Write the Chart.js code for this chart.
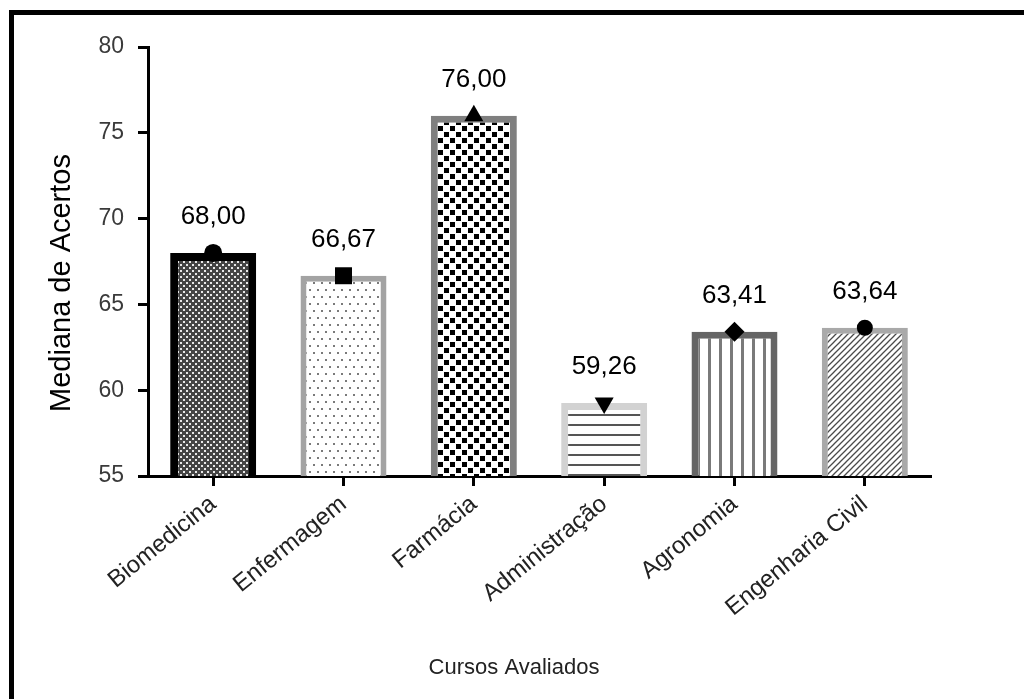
<!DOCTYPE html>
<html>
<head>
<meta charset="utf-8">
<script src="https://cdn.jsdelivr.net/npm/chart.js@4/dist/chart.umd.min.js"></script>
<style>
  html, body { margin: 0; padding: 0; background: #fff; overflow: hidden; width: 1024px; height: 699px; }
  #frame { position: absolute; left: 9px; top: 10px; width: 1100px; height: 800px;
           border-left: 5px solid #000; border-top: 5px solid #000; }
  #grafico { position: absolute; left: 0; top: 0; }
</style>
</head>
<body>
<div id="frame"></div>
<canvas id="grafico" width="1024" height="699"></canvas>
<script>
// Median score per evaluated course
const cursos = ['Biomedicina', 'Enfermagem', 'Farmácia', 'Administração', 'Agronomia', 'Engenharia Civil'];
const medianas = [68.00, 66.67, 76.00, 59.26, 63.41, 63.64];
const yTicks = [55, 60, 65, 70, 75, 80];
const tituloX = 'Cursos Avaliados';
const tituloY = 'Mediana de Acertos';

// Marker shape drawn on top of each bar
const marcadores = ['circle', 'rect', 'triangle', 'triangle', 'rectRot', 'circle'];
const rotacoes = [0, 0, 0, 180, 0, 0];
const raios = [9, 12, 11, 11, 10, 8];

// Bar outline colours and widths
const bordas = ['#000000', '#a3a3a3', '#7f7f7f', '#d2d2d2', '#656565', '#a9a9a9'];
const espessuras = [8, 6, 7, 7, 7, 6];

const FONTE = "'Liberation Sans', Arial, Helvetica, sans-serif";
const canvas = document.getElementById('grafico');
const ctx = canvas.getContext('2d');

// Build a repeating fill pattern from a small tile
function padrao(w, h, desenhar) {
  const t = document.createElement('canvas');
  t.width = w; t.height = h;
  const g = t.getContext('2d');
  desenhar(g, w, h);
  return ctx.createPattern(t, 'repeat');
}

const preenchimentos = [
  // fine dense dots
  padrao(6, 6, (g) => {
    g.fillStyle = '#444444'; g.fillRect(0, 0, 6, 6);
    g.fillStyle = '#e8e8e8'; g.fillRect(0, 0, 2, 2); g.fillRect(3, 3, 2, 2);
  }),
  // sparse small dots
  padrao(8, 14, (g) => {
    g.fillStyle = '#ffffff'; g.fillRect(0, 0, 8, 14);
    g.fillStyle = '#7a7a7a'; g.fillRect(1, 2, 2, 2); g.fillRect(5, 9, 2, 2);
  }),
  // checkerboard
  padrao(12, 12, (g) => {
    g.fillStyle = '#ffffff'; g.fillRect(0, 0, 12, 12);
    g.fillStyle = '#000000'; g.fillRect(0, 0, 5, 5); g.fillRect(6, 6, 5, 5);
  }),
  // horizontal lines
  padrao(10, 10, (g) => {
    g.fillStyle = '#ffffff'; g.fillRect(0, 0, 10, 10);
    g.fillStyle = '#555555'; g.fillRect(0, 4, 10, 2);
  }),
  // vertical lines
  padrao(11, 10, (g) => {
    g.fillStyle = '#ffffff'; g.fillRect(0, 0, 11, 10);
    g.fillStyle = '#7a7a7a'; g.fillRect(4, 0, 3, 10);
  }),
  // diagonal hatching
  padrao(6, 6, (g) => {
    g.fillStyle = '#ffffff'; g.fillRect(0, 0, 6, 6);
    g.strokeStyle = '#4a4a4a'; g.lineWidth = 1.3;
    g.beginPath();
    g.moveTo(-1, 7); g.lineTo(7, -1);
    g.moveTo(-1, 1); g.lineTo(1, -1);
    g.moveTo(5, 7); g.lineTo(7, 5);
    g.stroke();
  })
];

// Value text written above each bar
const rotulosValor = {
  id: 'rotulosValor',
  afterDatasetsDraw(chart) {
    const meta = chart.getDatasetMeta(1);
    const y = chart.scales.y;
    const c = chart.ctx;
    c.save();
    c.font = '26px ' + FONTE;
    c.fillStyle = '#000';
    c.textAlign = 'center';
    c.textBaseline = 'middle';
    meta.data.forEach((barra, i) => {
      const v = medianas[i];
      c.fillText(v.toFixed(2).replace('.', ','), barra.x, y.getPixelForValue(v) - 36);
    });
    c.restore();
  }
};

// Axis titles
const titulosEixos = {
  id: 'titulosEixos',
  afterDraw(chart) {
    const c = chart.ctx;
    c.save();
    c.textAlign = 'center';
    c.textBaseline = 'middle';
    c.fillStyle = '#222';
    c.font = '22px ' + FONTE;
    c.fillText(tituloX, 514, 668);
    c.fillStyle = '#000';
    c.font = '29px ' + FONTE;
    c.translate(62, 283);
    c.rotate(-Math.PI / 2);
    c.fillText(tituloY, 0, 0);
    c.restore();
  }
};

new Chart(ctx, {
  data: {
    labels: cursos,
    datasets: [
      {
        type: 'line',
        data: medianas,
        showLine: false,
        pointStyle: marcadores,
        pointRotation: rotacoes,
        pointRadius: raios,
        pointBackgroundColor: '#000',
        pointBorderColor: '#000',
        pointBorderWidth: 0,
        order: 0
      },
      {
        type: 'bar',
        data: medianas,
        backgroundColor: preenchimentos,
        borderColor: bordas,
        borderWidth: espessuras,
        barPercentage: 0.66,
        categoryPercentage: 1,
        order: 1
      }
    ]
  },
  options: {
    responsive: false,
    animation: false,
    events: [],
    layout: { padding: { left: 0, top: 47, right: 94, bottom: 0 } },
    plugins: { legend: { display: false }, tooltip: { enabled: false } },
    scales: {
      x: {
        z: 1,
        grid: { offset: false, drawOnChartArea: false, drawTicks: true, tickLength: 10, color: '#000', lineWidth: 3 },
        border: { color: '#000', width: 3 },
        ticks: { color: '#222', font: { family: FONTE, size: 24 }, maxRotation: 39, minRotation: 39, padding: 4 },
        afterFit(s) { s.height = 223; }
      },
      y: {
        min: 55, max: 80,
        z: 1,
        afterBuildTicks(s) { s.ticks = yTicks.map(v => ({ value: v })); },
        grid: { drawOnChartArea: false, drawTicks: true, tickLength: 10, color: '#000', lineWidth: 3 },
        border: { color: '#000', width: 3 },
        ticks: { color: '#3a3a3a', font: { family: FONTE, size: 23 }, padding: 14 },
        afterFit(s) { s.width = 148; }
      }
    }
  },
  plugins: [rotulosValor, titulosEixos]
});
</script>
</body>
</html>
